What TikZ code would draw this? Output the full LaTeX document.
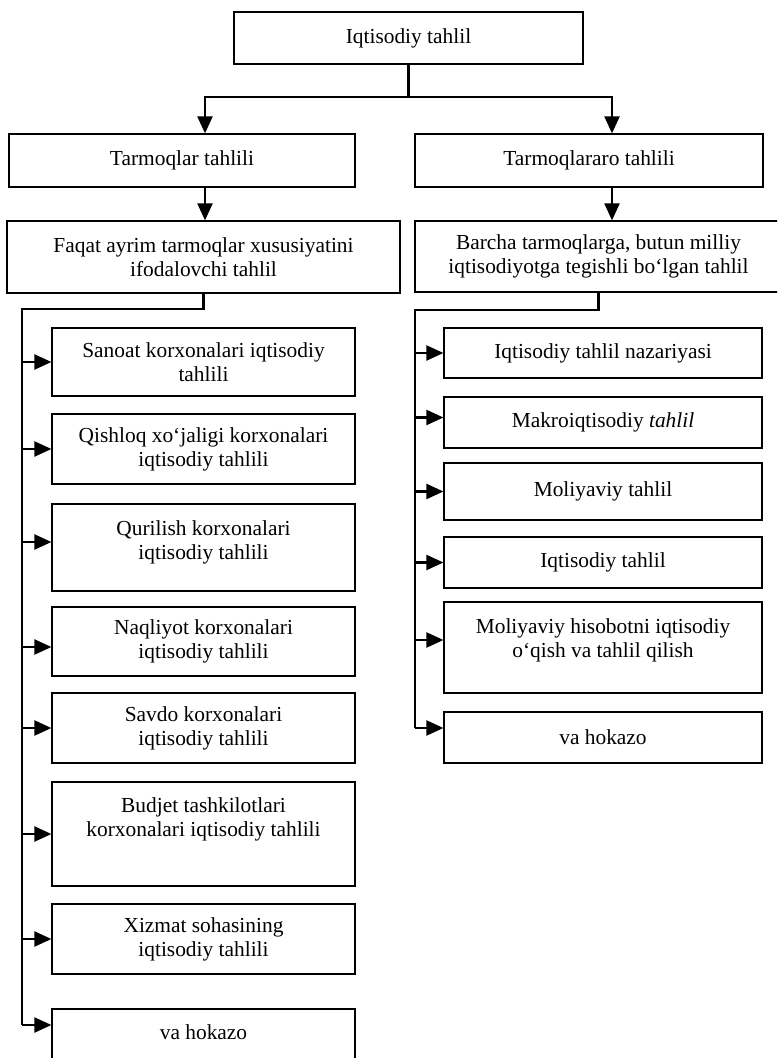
\documentclass[tikz,border=0pt]{standalone}
\usepackage{fontspec}
\setmainfont{Liberation Serif}
\usetikzlibrary{arrows.meta}

\begin{document}
\begin{tikzpicture}[x=0.5pt, y=-0.5pt,
        font=\fontsize{10.7}{12}\selectfont,
        box/.style={draw, line width=0.6pt, align=center, inner sep=0pt},
        lbox/.style={box, minimum width=151.5pt},
        rbox/.style={box, minimum width=159pt},
        link/.style={line width=1.1pt},
        arr/.style={link, -{Triangle[length=8.5pt, width=7.5pt]}}]

        \useasboundingbox (0,0) rectangle (777,1058);
        \clip (0,0) rectangle (777,1058);

        % Top levels
        \node (top) [box, minimum width=174.5pt, minimum height=26pt] at (408.5,38) {Iqtisodiy tahlil};
        \node (tarm) [box, minimum width=173pt, minimum height=26.5pt] at (182,160.5) {Tarmoqlar tahlili};
        \node (tarar) [box, minimum width=174pt, minimum height=26.5pt] at (589,160.5) {Tarmoqlararo tahlili};
        \node (faqat) [box, minimum width=196.5pt, minimum height=36pt] at (203.5,257) {Faqat ayrim tarmoqlar xususiyatini\\ifodalovchi tahlil};
        \node (barcha) [box, minimum width=183.5pt, minimum height=35.5pt] at (598.5,256.5) {Barcha tarmoqlarga, butun milliy\\iqtisodiyotga tegishli bo‘lgan tahlil};

        % Left column
        \node (sanoat) [lbox, minimum height=34pt] at (203.5,362) {Sanoat korxonalari iqtisodiy\\tahlili};
        \node (qishloq) [lbox, minimum height=35pt] at (203.5,449) {Qishloq xo‘jaligi korxonalari\\iqtisodiy tahlili};
        \node (qurilish) [lbox, minimum height=43.5pt] at (203.5,547.5) {Qurilish korxonalari\\iqtisodiy tahlili\\[-5pt]\mbox{}};
        \node (naqliyot) [lbox, minimum height=34.5pt] at (203.5,641.5) {Naqliyot korxonalari\\iqtisodiy tahlili};
        \node (savdo) [lbox, minimum height=35pt] at (203.5,728) {Savdo korxonalari\\iqtisodiy tahlili};
        \node (budjet) [lbox, minimum height=52pt] at (203.5,834) {Budjet tashkilotlari\\korxonalari iqtisodiy tahlili\\[5pt]\mbox{}};
        \node (xizmat) [lbox, minimum height=35pt] at (203.5,939) {Xizmat sohasining\\iqtisodiy tahlili};
        \node (lhokazo) [lbox, minimum height=28.5pt] at (203.5,1037.5) {va hokazo\\[-7pt]\mbox{}};

        % Right column
        \node (nazar) [rbox, minimum height=25pt] at (603,353) {Iqtisodiy tahlil nazariyasi};
        \node (makro) [rbox, minimum height=25.5pt] at (603,422.5) {Makroiqtisodiy \textit{tahlil}};
        \node (moliya) [rbox, minimum height=28.5pt] at (603,491.5) {Moliyaviy tahlil};
        \node (iqtis) [rbox, minimum height=25.5pt] at (603,562.5) {Iqtisodiy tahlil};
        \node (hisob) [rbox, minimum height=45.5pt] at (603,647.5) {Moliyaviy hisobotni iqtisodiy\\o‘qish va tahlil qilish\\[-2.5pt]\mbox{}};
        \node (rhokazo) [rbox, minimum height=25.5pt] at (603,737.5) {va hokazo};

        % Trunk points
        \coordinate (lcol) at (205,97);
        \coordinate (rcol) at (612,97);
        \coordinate (ltrunk) at (22,309);
        \coordinate (lend) at (22,1025);
        \coordinate (rtrunk) at (415,310);
        \coordinate (rend) at (415,728);

        % Edges
        \draw[link] (top.south) -- (top.south |- lcol);
        \draw[arr] (top.south |- lcol) -| (tarm.north -| lcol);
        \draw[arr] (top.south |- rcol) -| (tarar.north -| rcol);
        \draw[arr] (tarm.south -| lcol) -- (faqat.north -| lcol);
        \draw[arr] (tarar.south -| rcol) -- (barcha.north -| rcol);

        \draw[link] (faqat.south) |- (ltrunk) -- (lend);
        \draw[arr] (sanoat.west -| ltrunk) -- (sanoat.west);
        \draw[arr] (qishloq.west -| ltrunk) -- (qishloq.west);
        \draw[arr] ([yshift=2.75pt]qurilish.west -| ltrunk) -- ([yshift=2.75pt]qurilish.west);
        \draw[arr] ([yshift=-2.75pt]naqliyot.west -| ltrunk) -- ([yshift=-2.75pt]naqliyot.west);
        \draw[arr] (savdo.west -| ltrunk) -- (savdo.west);
        \draw[arr] (budjet.west -| ltrunk) -- (budjet.west);
        \draw[arr] (xizmat.west -| ltrunk) -- (xizmat.west);
        \draw[arr] (lend) -- (lend -| lhokazo.west);

        \draw[link] (barcha.south) |- (rtrunk) -- (rend);
        \draw[arr] (nazar.west -| rtrunk) -- (nazar.west);
        \draw[arr] ([yshift=2.5pt]makro.west -| rtrunk) -- ([yshift=2.5pt]makro.west);
        \draw[arr] (moliya.west -| rtrunk) -- (moliya.west);
        \draw[arr] (iqtis.west -| rtrunk) -- (iqtis.west);
        \draw[arr] ([yshift=3.75pt]hisob.west -| rtrunk) -- ([yshift=3.75pt]hisob.west);
        \draw[arr] (rend) -- (rend -| rhokazo.west);

\end{tikzpicture}
\end{document}
